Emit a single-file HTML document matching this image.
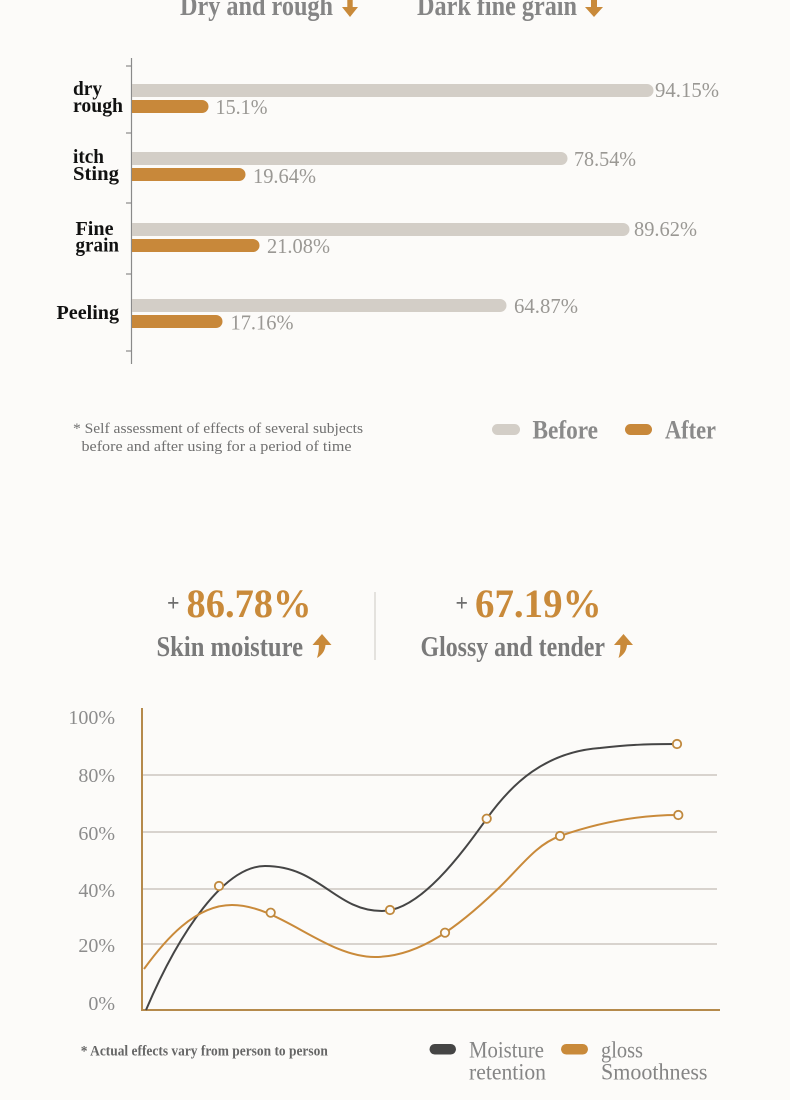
<!DOCTYPE html>
<html><head><meta charset="utf-8"><style>
html,body{margin:0;padding:0;background:#fcfbf9;}
svg{display:block;}
text{font-family:"Liberation Serif",serif;}
</style></head><body>
<svg width="790" height="1100" viewBox="0 0 790 1100" xmlns="http://www.w3.org/2000/svg">
<rect width="790" height="1100" fill="#fcfbf9"/>

<!-- Header -->
<text x="180" y="15" font-size="28" font-weight="bold" fill="#858585" textLength="153" lengthAdjust="spacingAndGlyphs">Dry and rough</text>
<path d="M347.3,0 L352.7,0 L352.7,7 L358,7 L350,17 L342,7 L347.3,7 Z" fill="#c98a3a"/>
<text x="417" y="15" font-size="28" font-weight="bold" fill="#858585" textLength="160" lengthAdjust="spacingAndGlyphs">Dark fine grain</text>
<path d="M591,0 L597,0 L597,7 L603,7 L594,17 L585,7 L591,7 Z" fill="#c98a3a"/>

<!-- Bar chart axis -->
<line x1="131.5" y1="58" x2="131.5" y2="364" stroke="#8a8a8a" stroke-width="1.2"/>
<g stroke="#8a8a8a" stroke-width="1.2">
<line x1="126" y1="66" x2="131.5" y2="66"/>
<line x1="126" y1="133" x2="131.5" y2="133"/>
<line x1="126" y1="203" x2="131.5" y2="203"/>
<line x1="126" y1="274" x2="131.5" y2="274"/>
<line x1="126" y1="351" x2="131.5" y2="351"/>
</g>

<!-- Bars -->
<g fill="#d3cec7">
<path d="M132,84 H647 a6.5,6.5 0 0 1 0,13 H132 Z"/>
<path d="M132,152 H561 a6.5,6.5 0 0 1 0,13 H132 Z"/>
<path d="M132,223 H623 a6.5,6.5 0 0 1 0,13 H132 Z"/>
<path d="M132,299 H500 a6.5,6.5 0 0 1 0,13 H132 Z"/>
</g>
<g fill="#c8883a">
<path d="M132,100 H202 a6.5,6.5 0 0 1 0,13 H132 Z"/>
<path d="M132,168 H239 a6.5,6.5 0 0 1 0,13 H132 Z"/>
<path d="M132,239 H253 a6.5,6.5 0 0 1 0,13 H132 Z"/>
<path d="M132,315 H216 a6.5,6.5 0 0 1 0,13 H132 Z"/>
</g>

<!-- Bar values -->
<g font-size="21" fill="#9a9894">
<text x="655" y="97" textLength="64" lengthAdjust="spacingAndGlyphs">94.15%</text>
<text x="215.5" y="114" textLength="52" lengthAdjust="spacingAndGlyphs">15.1%</text>
<text x="574" y="166" textLength="62" lengthAdjust="spacingAndGlyphs">78.54%</text>
<text x="253" y="183" textLength="63" lengthAdjust="spacingAndGlyphs">19.64%</text>
<text x="634" y="236" textLength="63" lengthAdjust="spacingAndGlyphs">89.62%</text>
<text x="267" y="253" textLength="63" lengthAdjust="spacingAndGlyphs">21.08%</text>
<text x="514" y="313" textLength="64" lengthAdjust="spacingAndGlyphs">64.87%</text>
<text x="230.5" y="329.5" textLength="63" lengthAdjust="spacingAndGlyphs">17.16%</text>
</g>

<!-- Bar labels -->
<g font-size="20" font-weight="bold" fill="#111">
<text x="73" y="95" textLength="29" lengthAdjust="spacingAndGlyphs">dry</text>
<text x="73" y="112" textLength="50" lengthAdjust="spacingAndGlyphs">rough</text>
<text x="73" y="163" textLength="31" lengthAdjust="spacingAndGlyphs">itch</text>
<text x="73" y="180" textLength="46" lengthAdjust="spacingAndGlyphs">Sting</text>
<text x="75.5" y="235" textLength="38" lengthAdjust="spacingAndGlyphs">Fine</text>
<text x="75.5" y="251.5" textLength="43.5" lengthAdjust="spacingAndGlyphs">grain</text>
<text x="56.5" y="319" textLength="62.5" lengthAdjust="spacingAndGlyphs">Peeling</text>
</g>

<!-- Footnote 1 -->
<g font-size="15" fill="#707070">
<text x="73" y="433" textLength="290" lengthAdjust="spacingAndGlyphs">* Self assessment of effects of several subjects</text>
<text x="81.5" y="451" textLength="270" lengthAdjust="spacingAndGlyphs">before and after using for a period of time</text>
</g>

<!-- Legend 1 -->
<rect x="492" y="424" width="28" height="11" rx="5.5" fill="#d3cec7"/>
<text x="532.5" y="438.5" font-size="26" font-weight="bold" fill="#8a8a8a" textLength="65.5" lengthAdjust="spacingAndGlyphs">Before</text>
<rect x="625" y="424" width="27" height="11" rx="5.5" fill="#c8883a"/>
<text x="665" y="438.5" font-size="26" font-weight="bold" fill="#8a8a8a" textLength="51" lengthAdjust="spacingAndGlyphs">After</text>

<!-- Stats -->
<text x="167" y="611" font-size="24" font-weight="bold" fill="#6e6e6e" textLength="12.5" lengthAdjust="spacingAndGlyphs">+</text>
<text x="186.5" y="617" font-size="40" font-weight="bold" fill="#c98a3a" textLength="125" lengthAdjust="spacingAndGlyphs">86.78%</text>
<text x="156.5" y="656" font-size="28" font-weight="bold" fill="#7a7a7a" textLength="146.5" lengthAdjust="spacingAndGlyphs">Skin moisture</text>
<path d="M322,634 L331.5,645 L325.5,645 C325,651 322,655 317,658 C318.5,653 319,649 318.8,645 L312.5,645 Z" fill="#c98a3a"/>

<line x1="375" y1="592" x2="375" y2="660" stroke="#d8d5d0" stroke-width="1.3"/>

<text x="455.5" y="611" font-size="24" font-weight="bold" fill="#6e6e6e" textLength="12.5" lengthAdjust="spacingAndGlyphs">+</text>
<text x="475" y="617" font-size="40" font-weight="bold" fill="#c98a3a" textLength="126.5" lengthAdjust="spacingAndGlyphs">67.19%</text>
<text x="420.5" y="656" font-size="28" font-weight="bold" fill="#7a7a7a" textLength="184.5" lengthAdjust="spacingAndGlyphs">Glossy and tender</text>
<path d="M623.5,634 L633,645 L627,645 C626.5,651 623.5,655 618.5,658 C620,653 620.5,649 620.3,645 L614,645 Z" fill="#c98a3a"/>

<!-- Line chart grid -->
<g stroke="#cbc6c0" stroke-width="1.6">
<line x1="142" y1="775" x2="717" y2="775"/>
<line x1="142" y1="832" x2="717" y2="832"/>
<line x1="142" y1="889" x2="717" y2="889"/>
<line x1="142" y1="944" x2="717" y2="944"/>
</g>
<!-- axes -->
<line x1="142" y1="708" x2="142" y2="1011" stroke="#b58a4c" stroke-width="2"/>
<line x1="141" y1="1010" x2="720" y2="1010" stroke="#b58a4c" stroke-width="2"/>

<!-- y labels -->
<g font-size="20" fill="#8c8c8c" text-anchor="end">
<text x="115" y="724">100%</text>
<text x="115" y="782">80%</text>
<text x="115" y="840">60%</text>
<text x="115" y="897">40%</text>
<text x="115" y="952">20%</text>
<text x="115" y="1010">0%</text>
</g>

<!-- curves -->
<path d="M146,1010 C180,930 225,866 265,866 C320,866 335,911 382,911 C420,911 461.7,853.7 486.7,818.7 C511.7,783.7 545,752 600,748 C630,744.5 650,744 677,744" fill="none" stroke="#454545" stroke-width="2"/>
<path d="M144,969 C165,940 195,905 232,905 C280,905 325,957 375,957 C420,957 460,925 496.7,890 C520,868 535,845 560,836 C600,822 640,815 678,815" fill="none" stroke="#c98a3a" stroke-width="2"/>

<g fill="#fcfbf9" stroke="#c0893e" stroke-width="1.8">
<circle cx="219" cy="886" r="4.2"/>
<circle cx="390" cy="910" r="4.2"/>
<circle cx="486.7" cy="818.7" r="4.2"/>
<circle cx="677" cy="744" r="4.2"/>
<circle cx="270.7" cy="912.7" r="4.2"/>
<circle cx="445" cy="932.7" r="4.2"/>
<circle cx="560" cy="836" r="4.2"/>
<circle cx="678.3" cy="815" r="4.2"/>
</g>

<!-- Footnote 2 and legend -->
<text x="80.8" y="1055.5" font-size="14.5" font-weight="bold" fill="#666" textLength="247" lengthAdjust="spacingAndGlyphs">* Actual effects vary from person to person</text>
<rect x="429.5" y="1044" width="26.5" height="10.5" rx="5.2" fill="#454545"/>
<text x="469" y="1057.5" font-size="23" fill="#858585" textLength="75" lengthAdjust="spacingAndGlyphs">Moisture</text>
<text x="469" y="1079.5" font-size="23" fill="#858585" textLength="77" lengthAdjust="spacingAndGlyphs">retention</text>
<rect x="561" y="1044" width="27" height="10.5" rx="5.2" fill="#c98a3a"/>
<text x="601" y="1057.5" font-size="23" fill="#858585" textLength="42" lengthAdjust="spacingAndGlyphs">gloss</text>
<text x="601" y="1079.5" font-size="23" fill="#858585" textLength="106.5" lengthAdjust="spacingAndGlyphs">Smoothness</text>
</svg>
</body></html>
